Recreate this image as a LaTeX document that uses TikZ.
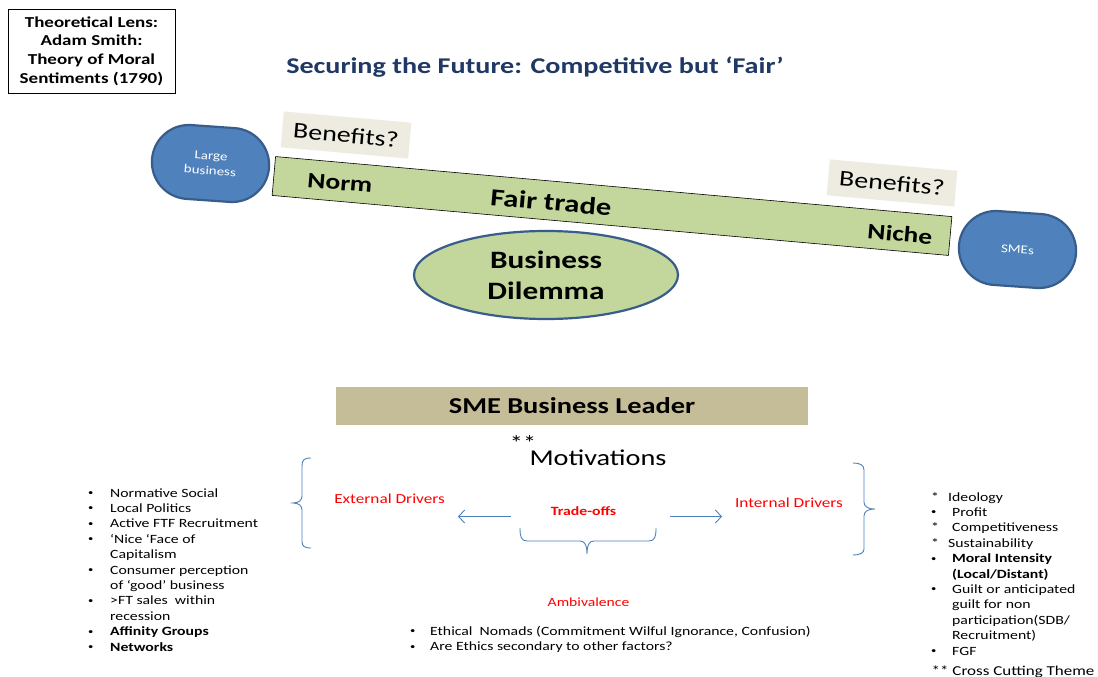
\documentclass[tikz,border=0pt]{standalone}
\usepackage{fontspec}
\setmainfont{Carlito}[FakeStretch=1.25]
\usepackage{xcolor}
\usetikzlibrary{arrows.meta}
\usetikzlibrary{shapes.geometric,shapes.misc}

\definecolor{blobblue}{RGB}{79,129,189}
\definecolor{blobedge}{RGB}{56,93,138}
\definecolor{plankgreen}{RGB}{195,214,155}
\definecolor{tagbeige}{RGB}{238,236,225}
\definecolor{leaderbox}{RGB}{196,189,151}
\definecolor{titleblue}{RGB}{31,56,100}
\newcommand{\fsz}[2]{\fontsize{#1}{#2}\selectfont}
\newcommand{\blt}{\raisebox{1.6pt}{\fsz{8.5}{9}•}}

\begin{document}
\begin{tikzpicture}[x=1pt,y=-1pt,
	blob/.style={rounded rectangle,draw=blobedge,fill=blobblue,line width=2.2pt,minimum width=124pt,minimum height=74pt,rotate=-4,text=white,align=center,font=\fsz{12}{15}},
	tagbox/.style={fill=tagbeige,minimum width=128pt,minimum height=36pt,rotate=-5.07,font=\fsz{22.4}{27}},
	onplank/.style={rotate=-5.07,font=\bfseries\fsz{22}{27}},
	lst/.style={inner sep=0pt,anchor=base west,font=\fsz{12.6}{15.4}},
	redtxt/.style={text=red,font=\fsz{13.8}{17}},
	brc/.style={draw=blobblue,line width=0.9pt},
	arr/.style={blobblue,line width=0.9pt,-{Straight Barb[length=6pt,width=13pt]}}]
	\fill[white] (0,0) rectangle (1098,677);
	\useasboundingbox (0,0) rectangle (1098,677);
	
	% Heading
	\node[draw,line width=0.8pt,minimum width=167pt,minimum height=84pt,align=center,font=\bfseries\fsz{15.2}{18.7}] (lens) at (91.5,51) {Theoretical Lens:\\Adam Smith:\\Theory of Moral\\Sentiments (1790)};
	\node[text=titleblue,font=\bfseries\fsz{22.5}{27}] (title) at (535,67) {Securing the Future: Competitive but ‘Fair’};
	
	% Balance
	\node[tagbox] (benL) at (346,135) {Benefits?};
	\node[tagbox] (benR) at (892,183) {Benefits?};
	\node[draw,fill=plankgreen,line width=0.6pt,minimum width=679pt,minimum height=39pt,rotate=-5.07,inner sep=0pt] (plank) at (612,206) {};
	\node[onplank] (norm) at (340,183) {Norm};
	\node[onplank,font=\bfseries\fsz{24.5}{29}] (fair) at (551,202) {Fair trade};
	\node[onplank] (niche) at (900,234) {Niche};
	\node[blob] (large) at (210.5,163.5) {Large\\business};
	\node[blob] (smes) at (1017.5,249.5) {SMEs};
	\node[ellipse,draw=blobedge,fill=plankgreen,line width=2.2pt,minimum width=264pt,minimum height=88pt,align=center,font=\bfseries\fsz{25}{31}] (dilemma) at (546,275) {Business\\Dilemma};
	
	% Leader
	\node[fill=leaderbox,minimum width=472pt,minimum height=38pt,font=\bfseries\fsz{22.7}{27}] (leader) at (572,406) {SME Business Leader};
	\node[font=\fsz{22.6}{27}] (motiv) at (598,458) {Motivations};
	\node[font=\fsz{21}{25},anchor=base,inner sep=0pt] (stars) at (523,450) {**};
	
	% Braces
	\draw[brc] (311,458) .. controls (304,458) and (302,460) .. (302,466) -- (302,496) .. controls (302,500) and (299,503) .. (293,503) .. controls (299,503) and (302,506) .. (302,510) -- (302,541) .. controls (302,546) and (304,548) .. (311,548);
	\draw[brc] (853,463) .. controls (860,463) and (864,465) .. (864,470) -- (864,502) .. controls (864,506) and (867,509) .. (875,509) .. controls (867,509) and (864,512) .. (864,516) -- (864,549) .. controls (864,553) and (860,555) .. (853,555);
	\draw[brc] (520,528) .. controls (520,536) and (521,541) .. (527,541) -- (580,541) .. controls (584,541) and (587,544) .. (587,554) .. controls (587,544) and (590,541) .. (594,541) -- (649,541) .. controls (655,541) and (656,536) .. (656,528);
	
	% Drivers
	\node[redtxt] (ext) at (389.6,499) {External Drivers};
	\node[redtxt] (int) at (789,503) {Internal Drivers};
	\node[redtxt,font=\bfseries\fsz{12.6}{15}] (trade) at (583.5,511) {Trade-offs};
	\node[redtxt,font=\fsz{12.5}{15}] (amb) at (588.5,602) {Ambivalence};
	\coordinate (tl) at (511,516.5);
	\coordinate (el) at (458,516.5);
	\coordinate (tr) at (670,516.5);
	\coordinate (ir) at (722,516.5);
	\draw[arr] (tl) -- (el);
	\draw[arr] (tr) -- (ir);
	
	% Lists
	\node[lst] (extlist) at (88,497) {\begin{tabular}[t]{@{}p{22pt}@{}l@{}}
		\blt&Normative Social\\
		\blt&Local Politics\\
		\blt&Active FTF Recruitment\\
		\blt&‘Nice ‘Face of\\
		&Capitalism\\
		\blt&Consumer perception\\
		&of ‘good’ business\\
		\blt&>FT sales~ within\\
		&recession\\
		\blt&\textbf{Affinity Groups}\\
		\blt&\textbf{Networks}
	\end{tabular}};
	\node[lst] (intlist) at (931,501) {\begin{tabular}[t]{@{}p{21pt}@{}l@{}}
		{*}&\hspace{-4pt}Ideology\\
		\blt&Profit\\
		{*}&Competitiveness\\
		{*}&\hspace{-4pt}Sustainability\\
		\blt&\textbf{Moral Intensity}\\
		&\textbf{(Local/Distant)}\\
		\blt&Guilt or anticipated\\
		&guilt for non\\
		&participation(SDB/\\
		&Recruitment)\\
		\blt&FGF
	\end{tabular}};
	\node[font=\fsz{13.6}{17},anchor=base west,inner sep=0pt] (cross) at (931.5,675) {** Cross Cutting Theme};
	\node[lst] (amblist) at (410,635.5) {\begin{tabular}[t]{@{}p{20pt}@{}l@{}}
		\blt&Ethical~ Nomads (Commitment Wilful Ignorance, Confusion)\\
		\blt&Are Ethics secondary to other factors?
	\end{tabular}};
\end{tikzpicture}
\end{document}
